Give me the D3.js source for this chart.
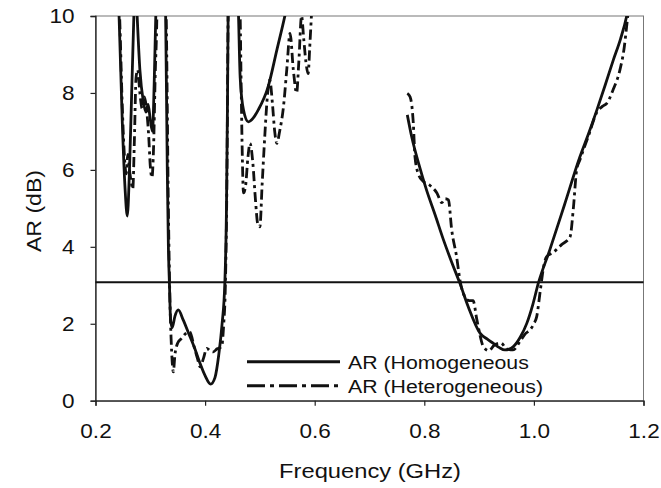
<!DOCTYPE html>
<html>
<head>
<meta charset="utf-8">
<script src="https://cdn.jsdelivr.net/npm/d3@7"></script>
<style>
  body { margin: 0; background: #fff; }
  text { font-family: "Liberation Sans", Arial, sans-serif; fill: #111; }
</style>
</head>
<body>
<div id="chart"></div>
<script>
// AR curves, segments separated by null
const homFreq = [0.240, 0.243, 0.249, 0.254, 0.258, 0.262, 0.266, 0.270, 0.272, null,
  0.273, 0.276, 0.281, 0.287, 0.292, 0.296, 0.300, 0.304, 0.307, 0.310, 0.312, null,
  0.326, 0.328, 0.331, 0.333, 0.335, 0.337, 0.340, 0.345, 0.351, 0.360, 0.370, 0.380, 0.390, 0.400, 0.410, 0.418, 0.425, 0.431, 0.436, 0.439, 0.441, 0.442, 0.443, null,
  0.459, 0.461, 0.464, 0.470, 0.479, 0.488, 0.497, 0.515, 0.531, 0.546, 0.550, null,
  0.769, 0.777, 0.790, 0.804, 0.820, 0.835, 0.850, 0.865, 0.880, 0.902, 0.915, 0.926, 0.937, 0.947, 0.955, 0.962, 0.975, 0.987, 0.998, 1.008, 1.029, 1.056, 1.084, 1.100, 1.115, 1.130, 1.145, 1.158, 1.169, 1.172];
const homAR = [11, 10, 7.2, 5.5, 4.8, 6.0, 8.0, 10, 11, null,
  11, 10, 8.6, 7.8, 7.5, 7.7, 7.3, 7.0, 8.2, 10, 11, null,
  11, 10, 6, 4, 3, 2.1, 1.9, 2.2, 2.36, 2.1, 1.75, 1.4, 1.0, 0.65, 0.43, 0.6, 1.2, 2.0, 3.06, 5, 8, 10, 11, null,
  11, 10, 8.4, 7.56, 7.25, 7.35, 7.56, 8.16, 9.12, 10.03, 10.3, null,
  7.43, 6.86, 6.15, 5.48, 4.82, 4.18, 3.6, 3.05, 2.45, 1.75, 1.6, 1.49, 1.38, 1.32, 1.34, 1.40, 1.65, 2.01, 2.5, 3.05, 3.92, 5.1, 6.34, 6.95, 7.56, 8.2, 8.86, 9.4, 9.98, 10.2];

const hetFreq = [0.241, 0.244, 0.249, 0.253, 0.256, 0.259, 0.262, 0.265, 0.268, 0.271, 0.274, 0.277, 0.281, 0.285, 0.289, 0.293, 0.297, 0.300, 0.303, 0.306, 0.309, 0.312, 0.313, null,
  0.327, 0.329, 0.333, 0.336, 0.338, 0.340, 0.342, 0.345, 0.350, 0.357, 0.365, 0.372, 0.380, 0.386, 0.391, 0.397, 0.403, 0.409, 0.415, 0.422, 0.430, 0.434, 0.437, 0.440, 0.442, 0.443, null,
  0.462, 0.464, 0.466, 0.468, 0.470, 0.474, 0.478, 0.482, 0.487, 0.492, 0.496, 0.500, 0.504, 0.509, 0.513, 0.518, 0.523, 0.527, 0.531, 0.536, 0.543, 0.549, 0.555, 0.561, 0.567, 0.571, 0.576, 0.580, 0.584, 0.588, 0.591, 0.594, 0.596, null,
  0.769, 0.774, 0.780, 0.783, 0.789, 0.798, 0.810, 0.823, 0.832, 0.838, 0.844, 0.850, 0.859, 0.865, 0.874, 0.882, 0.889, 0.896, 0.908, 0.918, 0.928, 0.940, 0.950, 0.962, 0.975, 0.985, 0.993, 1.000, 1.005, 1.012, 1.018, 1.023, 1.035, 1.050, 1.066, 1.072, 1.078, 1.084, 1.100, 1.115, 1.125, 1.133, 1.145, 1.157, 1.165, 1.169, 1.172];
const hetAR = [11, 10, 7.6, 6.3, 5.9, 6.4, 6.0, 5.7, 5.5, 6.8, 8.4, 8.6, 8.0, 7.6, 7.9, 7.6, 6.9, 6.1, 5.8, 6.6, 8.5, 10, 11, null,
  11, 10, 5, 2.5, 1.6, 1.0, 0.75, 1.2, 1.5, 1.62, 1.75, 1.79, 1.4, 1.1, 0.88, 1.1, 1.36, 1.3, 1.27, 1.35, 1.4, 2.0, 3.0, 6, 10, 11, null,
  11, 10, 8, 6.3, 5.4, 5.6, 6.3, 6.69, 6.2, 5.2, 4.6, 4.52, 5.6, 6.9, 7.8, 8.34, 7.7, 7.0, 6.69, 7.0, 7.64, 8.6, 9.55, 8.6, 8.0, 8.8, 10, 9.4, 8.8, 8.5, 9.2, 10, 10.5, null,
  7.99, 7.9, 7.2, 6.34, 5.9, 5.7, 5.6, 5.4, 5.15, 5.25, 5.22, 4.44, 3.74, 3.14, 2.7, 2.6, 2.6, 2.1, 1.4, 1.3, 1.45, 1.5, 1.35, 1.32, 1.55, 1.75, 1.84, 2.0, 2.18, 2.9, 3.5, 3.74, 3.85, 4.05, 4.26, 5.0, 6.0, 6.26, 6.9, 7.5, 7.65, 7.73, 8.1, 8.6, 9.2, 9.7, 10.1];

const thresholdAR = 3.08;
const xTicks = [0.2, 0.4, 0.6, 0.8, 1.0, 1.2];
const yTicks = [0, 2, 4, 6, 8, 10];
const legendLabels = ["AR (Homogeneous", "AR (Heterogeneous)"];

const W = 661, H = 488;
const pLeft = 95.5, pRight = 643.5, pTop = 16, pBottom = 400.7;

const svg = d3.select("#chart").append("svg")
  .attr("width", W).attr("height", H);

const x = d3.scaleLinear().domain([0.2, 1.2]).range([pLeft, pRight]);
const y = d3.scaleLinear().domain([0, 10]).range([pBottom, pTop]);

svg.append("clipPath").attr("id", "clip")
  .append("rect").attr("x", pLeft).attr("y", pTop)
  .attr("width", pRight - pLeft).attr("height", pBottom - pTop);

// frame (top, right)
svg.append("rect")
  .attr("x", pLeft).attr("y", pTop)
  .attr("width", pRight - pLeft).attr("height", pBottom - pTop)
  .attr("fill", "none").attr("stroke", "#777").attr("stroke-width", 1);

// axes
const xAxis = svg.append("g")
  .attr("transform", `translate(0,${pBottom})`)
  .call(d3.axisBottom(x).tickValues(xTicks).tickFormat(d3.format(".1f"))
    .tickSize(5).tickPadding(18));
const yAxis = svg.append("g")
  .attr("transform", `translate(${pLeft},0)`)
  .call(d3.axisLeft(y).tickValues(yTicks).tickFormat(d3.format("d"))
    .tickSize(5).tickPadding(16));

[xAxis, yAxis].forEach(g => {
  g.select(".domain").attr("stroke", "#222").attr("stroke-width", 1.3);
  g.selectAll(".tick line").attr("stroke", "#222").attr("stroke-width", 1.2);
  g.selectAll("text").style("font-size", "20.5px").attr("fill", "#111");
});
// the original's lettering is a little wide
xAxis.selectAll("text").attr("transform", "scale(1.1,1)");
yAxis.selectAll("text").attr("transform", "scale(1.1,1)")
  .attr("x", -21 / 1.1);

// threshold line
svg.append("line")
  .attr("x1", pLeft).attr("x2", pRight)
  .attr("y1", y(thresholdAR)).attr("y2", y(thresholdAR))
  .attr("stroke", "#111").attr("stroke-width", 2);

const makeData = (fs, ars) => fs.map((f, i) => ({ f: f, ar: ars[i] }));
const line = d3.line()
  .defined(d => d.f !== null && d.ar !== null)
  .x(d => x(d.f)).y(d => y(d.ar))
  .curve(d3.curveMonotoneX);

const plot = svg.append("g").attr("clip-path", "url(#clip)");

plot.append("path")
  .datum(makeData(hetFreq, hetAR))
  .attr("d", line)
  .attr("fill", "none").attr("stroke", "#111")
  .attr("stroke-width", 2.8)
  .attr("stroke-dasharray", "10,4,3,4");

plot.append("path")
  .datum(makeData(homFreq, homAR))
  .attr("d", line)
  .attr("fill", "none").attr("stroke", "#111")
  .attr("stroke-width", 2.8);

// legend
const legend = svg.append("g");
legendLabels.forEach((lab, i) => {
  const ly = 361.7 + i * 24;
  legend.append("line")
    .attr("x1", 247).attr("x2", 340).attr("y1", ly).attr("y2", ly)
    .attr("stroke", "#111").attr("stroke-width", 3)
    .attr("stroke-dasharray", i === 1 ? "18,5,4,5" : null);
  legend.append("text")
    .attr("transform", `translate(348,${ly + 7}) scale(1.12,1)`)
    .style("font-size", "19px")
    .text(lab);
});

// axis titles
svg.append("text")
  .attr("transform", "translate(370,478) scale(1.13,1)")
  .attr("text-anchor", "middle")
  .style("font-size", "21px")
  .text("Frequency (GHz)");

svg.append("text")
  .attr("transform", "translate(41,211) rotate(-90) scale(1.1,1)")
  .attr("text-anchor", "middle")
  .style("font-size", "21px")
  .text("AR (dB)");
</script>
</body>
</html>
